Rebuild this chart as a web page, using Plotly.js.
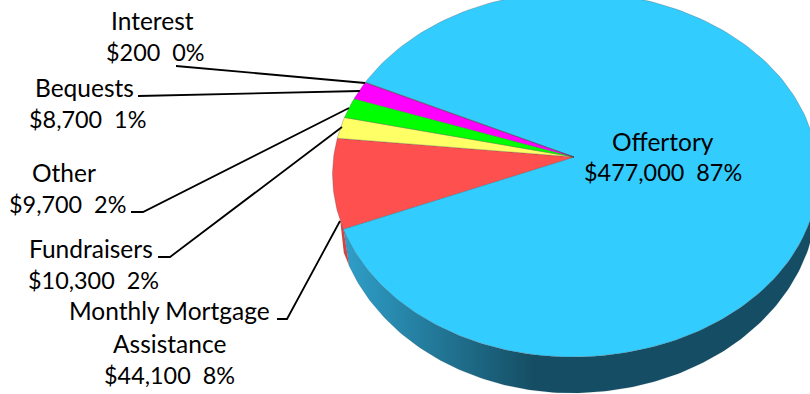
<!DOCTYPE html>
<html><head><meta charset="utf-8">
<script src="https://cdn.plot.ly/plotly-3.0.1.min.js"></script>
<style>html,body{margin:0;padding:0;background:#fff;overflow:hidden}#c{width:810px;height:394px}</style>
</head><body><div id="c"></div>
<script>
var categories = ["Offertory","Monthly Mortgage Assistance","Fundraisers","Other","Bequests","Interest"];
var values = [477000,44100,10300,9700,8700,200];
var percents = [87,8,2,2,1,0];
var colors = ["#33ccff","#ff5050","#ffff66","#00ff00","#ff00ff","#33ccff"];
var labelLines = [["Offertory"],["Monthly Mortgage","Assistance"],["Fundraisers"],["Other"],["Bequests"],["Interest"]];
var nameX = [[663],[169,169],[91],[64],[84],[152]];
var nameY = [[141],[310,343],[248],[172],[87],[20]];
var amountX = [663,169,93,67,87,155];
var amountY = [172,375,280,204,119,52];
var leaders = [null,
 [[277,319],[287,319],[340,221]],
 [[158,257],[170,257],[342,127]],
 [[131,212],[143,212],[349,108]],
 [[138,96],[360,91]],
 [[176,66],[365,83]]];

var P = {cx:572,cy:174.5,rxL:239.5,rxR:246,ry:182.5,ax:574,ay:157,start:162.6};
var Q = {cy:197,rxL:238,rxR:245,ry:196};
var total = values.reduce(function(a,b){return a+b},0);
function rim(deg){var t=deg*Math.PI/180,c=Math.cos(t);return [P.cx+(c<0?P.rxL:P.rxR)*c,P.cy+P.ry*Math.sin(t)];}
function low(deg){var t=deg*Math.PI/180,c=Math.cos(t);return [P.cx+(c<0?Q.rxL:Q.rxR)*c,Q.cy+Q.ry*Math.sin(t)];}
function money(v){return "$"+v.toLocaleString("en-US");}
var traces=[];
function poly(pts,fill,extra){
  var tr={x:pts.map(function(p){return p[0]}),y:pts.map(function(p){return p[1]}),mode:"lines",
    fill:"toself",fillcolor:fill,line:{width:0.7,color:"rgba(70,70,70,0.4)"},hoverinfo:"skip",showlegend:false};
  for(var k in extra)tr[k]=extra[k];traces.push(tr);
}
// side wall of the disc
var side=[],d;
for(d=0;d<=162.6;d+=1)side.push(rim(d));
side.push(rim(P.start));
for(d=159.5;d>=0;d-=1)side.push(low(d));
poly(side,"#154e64",{fillgradient:{type:"horizontal",colorscale:[[0,"#2f9fc9"],[0.4,"#154e64"],[1,"#154e64"]]},line:{width:0.5,color:"rgba(20,60,80,.3)"}});
// side of the red slice, seen as a sliver
var redSide=[rim(P.start+2.8),rim(P.start),low(159.5),low(163.5)];
poly(redSide,"#d04444",{line:{width:0}});
// top slices, from the values, clockwise on screen from the start angle
var ang=P.start,order=[1,2,3,4,5],wedges={};
order.forEach(function(i){
  var span=values[i]/total*360,pts=[[P.ax,P.ay]];
  for(var k=0;k<=30;k++)pts.push(rim(ang+span*k/30));
  pts.push([P.ax,P.ay]);wedges[i]=pts;ang+=span;
});
var main=[[P.ax,P.ay]],span0=values[0]/total*360;
for(var i=0;i<=240;i++)main.push(rim(ang+span0*i/240));
main.push([P.ax,P.ay]);
poly(main,colors[0]);
order.forEach(function(i){poly(wedges[i],colors[i]);});
// leaders
leaders.forEach(function(l){ if(!l)return;
 traces.push({x:l.map(function(p){return p[0]}),y:l.map(function(p){return p[1]}),mode:"lines",line:{color:"#000",width:1.8},hoverinfo:"skip",showlegend:false});
});
// labels
var ann=[];
function label(t,x,y,size){ann.push({x:x,y:y,xref:"x",yref:"y",text:t,showarrow:false,xanchor:"center",yanchor:"middle",font:{family:"Lato, Open Sans, sans-serif",size:size,color:"#000"}});}
categories.forEach(function(c,i){
  labelLines[i].forEach(function(t,j){label(t,nameX[i][j],nameY[i][j],24.5);});
  label(money(values[i])+"  "+percents[i]+"%",amountX[i],amountY[i],23.4);
});
var layout={width:810,height:394,margin:{l:0,r:0,t:0,b:0},paper_bgcolor:"#fff",plot_bgcolor:"#fff",showlegend:false,
 xaxis:{range:[0,810],visible:false,fixedrange:true},yaxis:{range:[394,0],visible:false,fixedrange:true},annotations:ann};
Plotly.newPlot("c",traces,layout,{displayModeBar:false,staticPlot:true});
</script></body></html>
